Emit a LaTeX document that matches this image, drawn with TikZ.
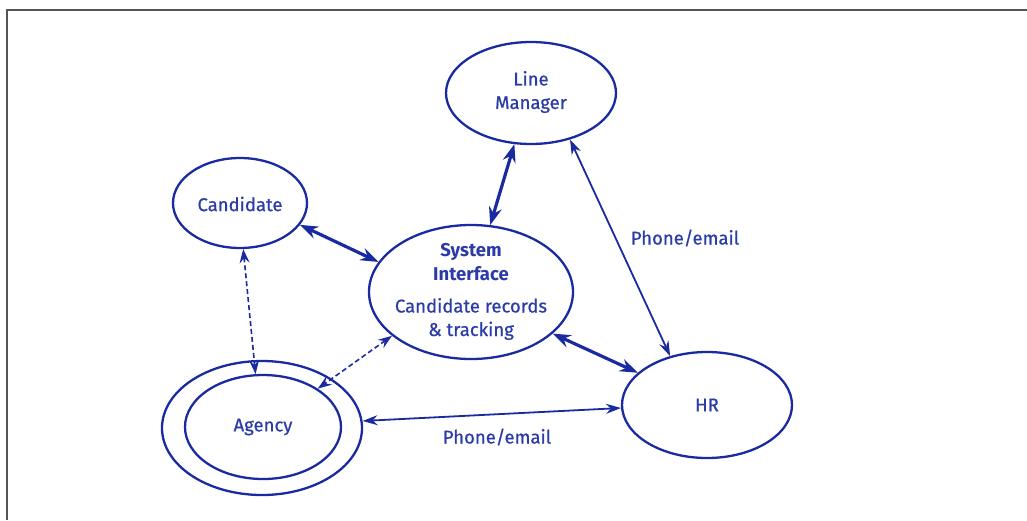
\documentclass[tikz,border=0pt]{standalone}
\usepackage{fontspec}
\setmainfont[FakeBold=0.7]{Fira Sans}
\newfontfamily\sysbold{Fira Sans}
\usetikzlibrary{shapes.geometric,arrows.meta}
\definecolor{ln}{HTML}{1A2AA0}
\definecolor{tx}{HTML}{2B3CA6}
\definecolor{fr}{HTML}{555555}
\begin{document}
\begin{tikzpicture}[x=1pt,y=-1pt,
  ell/.style={draw=ln,line width=2.3pt,ellipse,inner sep=0pt},
  txt/.style={text=tx,font=\fontsize{18.5}{23.5}\selectfont,align=center,inner sep=0pt},
  bigarrow/.style={draw=ln,line width=3.2pt,{Stealth[length=18pt,width=13pt,inset=6pt]}-{Stealth[length=18pt,width=13pt,inset=6pt]}},
  thinarrow/.style={draw=ln,line width=1.8pt,{Stealth[length=15pt,width=10pt,inset=5pt]}-{Stealth[length=15pt,width=10pt,inset=5pt]}},
  dasharrow/.style={draw=ln,line width=1.6pt,dash pattern=on 5pt off 3pt,{Stealth[length=14pt,width=10pt,inset=5pt]}-{Stealth[length=14pt,width=10pt,inset=5pt]}}]
\useasboundingbox (0,0) rectangle (1027,520);
\coordinate (f1) at (1027,10);
\coordinate (f2) at (7,10);
\coordinate (f3) at (7,520);
\draw[fr,line width=2pt] (f1) -- (f2) -- (f3);
% ellipses
\node[ell,minimum width=170pt,minimum height=102pt] (lm) at (531,93) {};
\node[ell,minimum width=134pt,minimum height=90pt] (cand) at (240,203) {};
\node[ell,minimum width=204pt,minimum height=134pt] (sys) at (471,292) {};
\node[ell,minimum width=170pt,minimum height=106pt] (hr) at (707,405) {};
\node[ell,minimum width=200pt,minimum height=134pt] (ago) at (262,428) {};
\node[ell,minimum width=156pt,minimum height=104pt] (agi) at (263,427) {};
% texts
\node[txt] (lmt) at (531,92) {Line\\Manager};
\node[txt] (candt) at (240,204) {Candidate};
\node[txt] (hrt) at (707,405) {HR};
\node[txt] (agt) at (263,427) {Agency};
\node[txt,font=\fontsize{18.5}{23.5}\sysbold\bfseries] (syst1) at (471,262) {System\\Interface};
\node[txt] (syst2) at (471,319) {Candidate records\\\& tracking};
\node[txt] (pe1) at (685,238) {Phone/email};
\node[txt] (pe2) at (497,437) {Phone/email};
% connectors
\draw[bigarrow] (cand.-20) -- (sys.162);
\draw[bigarrow] (sys.74) -- (lm.-108);
\draw[thinarrow] (lm.-50.6) -- (hr.127.7);
\draw[bigarrow] (sys.-27.6) -- (hr.155);
\draw[thinarrow] (ago.4.5) -- (hr.182.7);
\draw[dasharrow] (cand.-86) -- (agi.98.7);
\draw[dasharrow] (sys.209) -- (agi.35.8);
\end{tikzpicture}
\end{document}
